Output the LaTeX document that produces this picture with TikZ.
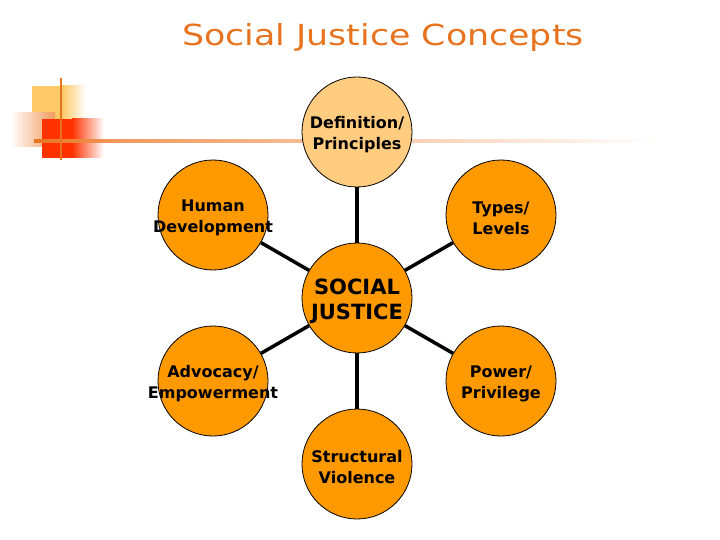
\documentclass[tikz,border=0pt]{standalone}
\usepackage{fontspec}
\setmainfont{DejaVu Sans}
\usepackage{tikz}
\usetikzlibrary{positioning}
\definecolor{SJOrange}{HTML}{FF9900}
\definecolor{SJLight}{HTML}{FFCC80}
\definecolor{SJTitle}{HTML}{E8731E}
\definecolor{SJRed}{HTML}{FF3300}
\definecolor{SJGold}{HTML}{FFC966}
\definecolor{SJSalmon}{HTML}{F29A5E}

\begin{document}
\begin{tikzpicture}[x=1pt, y=-1pt,
    every label/.style={align=center, yshift=-3pt, font=\bfseries\fontsize{16}{21}\selectfont},
    concept/.style={circle, draw=black, line width=0.8pt, fill=SJOrange,
                    minimum size=110pt, inner sep=0pt},
    spoke/.style={draw=black, line width=3.5pt}]
\useasboundingbox (0,0) rectangle (720,540);
% corner ornament
\fill[SJGold] (32,86) rectangle (62,120);
\shade[left color=SJGold, right color=white] (62,86) rectangle (86,120);
\shade[left color=white, right color=SJSalmon] (10,113) rectangle (55,147);
\fill[SJRed] (42,119) rectangle (72,158);
\shade[left color=SJRed, right color=white] (72,119) rectangle (104,158);
\shade[left color=SJTitle, right color=SJSalmon] (34,139.5) rectangle (120,142.5);
\shade[left color=SJSalmon, right color=white] (120,139.5) rectangle (660,142.5);
\draw[SJTitle, line width=2.8pt] (61,78) -- (61,160);
% title
\node[anchor=base, text=SJTitle, font=\fontsize{29}{34}\selectfont] (title) at (383,46)
    {\scalebox{1.2}[1]{Social Justice Concepts}};
% concepts
\node[concept, fill=SJLight, label=center:{Definition/\\Principles}] (def) at (357,132) {};
\node[concept, label=center:{Human\\Development}] (human) at (213,215) {};
\node[concept, label=center:{Types/\\Levels}] (types) at (501,215) {};
\node[concept, label={[font=\bfseries\fontsize{21}{25}\selectfont]center:{SOCIAL\\JUSTICE}}] (sj) at (357,298) {};
\node[concept, label=center:{Advocacy/\\Empowerment}] (adv) at (213,381) {};
\node[concept, label=center:{Power/\\Privilege}] (power) at (501,381) {};
\node[concept, label=center:{Structural\\Violence}] (struct) at (357,464) {};
% spokes
\draw[spoke] (sj) -- (def);
\draw[spoke] (sj) -- (human);
\draw[spoke] (sj) -- (types);
\draw[spoke] (sj) -- (adv);
\draw[spoke] (sj) -- (power);
\draw[spoke] (sj) -- (struct);
\end{tikzpicture}
\end{document}
